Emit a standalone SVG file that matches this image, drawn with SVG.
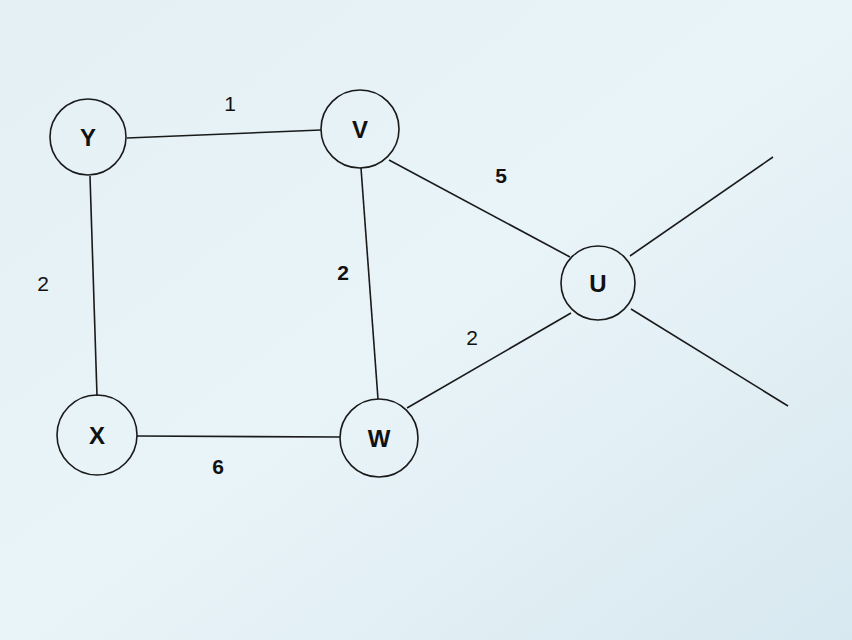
<svg xmlns="http://www.w3.org/2000/svg" width="852" height="640" viewBox="0 0 852 640">
<defs>
<linearGradient id="bg" x1="0" y1="0" x2="1" y2="1">
<stop offset="0" stop-color="#e4f0f4"/>
<stop offset="0.5" stop-color="#e9f4f8"/>
<stop offset="1" stop-color="#d8e8f0"/>
</linearGradient>
<style>
.n circle{fill:none;stroke:#1a1a1a;stroke-width:1.6}
.n text{font-family:"Liberation Sans",Arial,sans-serif;font-size:24px;font-weight:bold;fill:#111;text-anchor:middle}
.e line{stroke:#1a1a1a;stroke-width:1.6}
.l{font-family:"Liberation Sans",Arial,sans-serif;font-size:21px;fill:#111;text-anchor:middle}
.b{font-weight:bold}
</style>
</defs>
<rect width="852" height="640" fill="url(#bg)"/>
<g id="connectors" class="e">
<line x1="127" y1="138" x2="321" y2="130"/>
<line x1="90" y1="176" x2="97" y2="396"/>
<line x1="361" y1="168" x2="378" y2="399"/>
<line x1="389" y1="160" x2="570" y2="257"/>
<line x1="407" y1="408" x2="571" y2="313"/>
<line x1="137" y1="436" x2="340" y2="437"/>
<line x1="630" y1="256" x2="773" y2="157"/>
<line x1="631" y1="309" x2="788" y2="406"/>
</g>
<g id="labels">
<text class="l" x="230" y="111">1</text>
<text class="l" x="43" y="291">2</text>
<text class="l b" x="343" y="280">2</text>
<text class="l b" x="501" y="183">5</text>
<text class="l" x="472" y="345">2</text>
<text class="l b" x="218" y="474">6</text>
</g>
<g id="Y" class="n"><circle cx="88" cy="137" r="38"/><text x="88" y="146">Y</text></g>
<g id="V" class="n"><circle cx="360" cy="129" r="39"/><text x="360" y="138">V</text></g>
<g id="U" class="n"><circle cx="598" cy="283" r="37"/><text x="598" y="292">U</text></g>
<g id="X" class="n"><circle cx="97" cy="435" r="40"/><text x="97" y="444">X</text></g>
<g id="W" class="n"><circle cx="379" cy="438" r="39"/><text x="379" y="447">W</text></g>
</svg>
